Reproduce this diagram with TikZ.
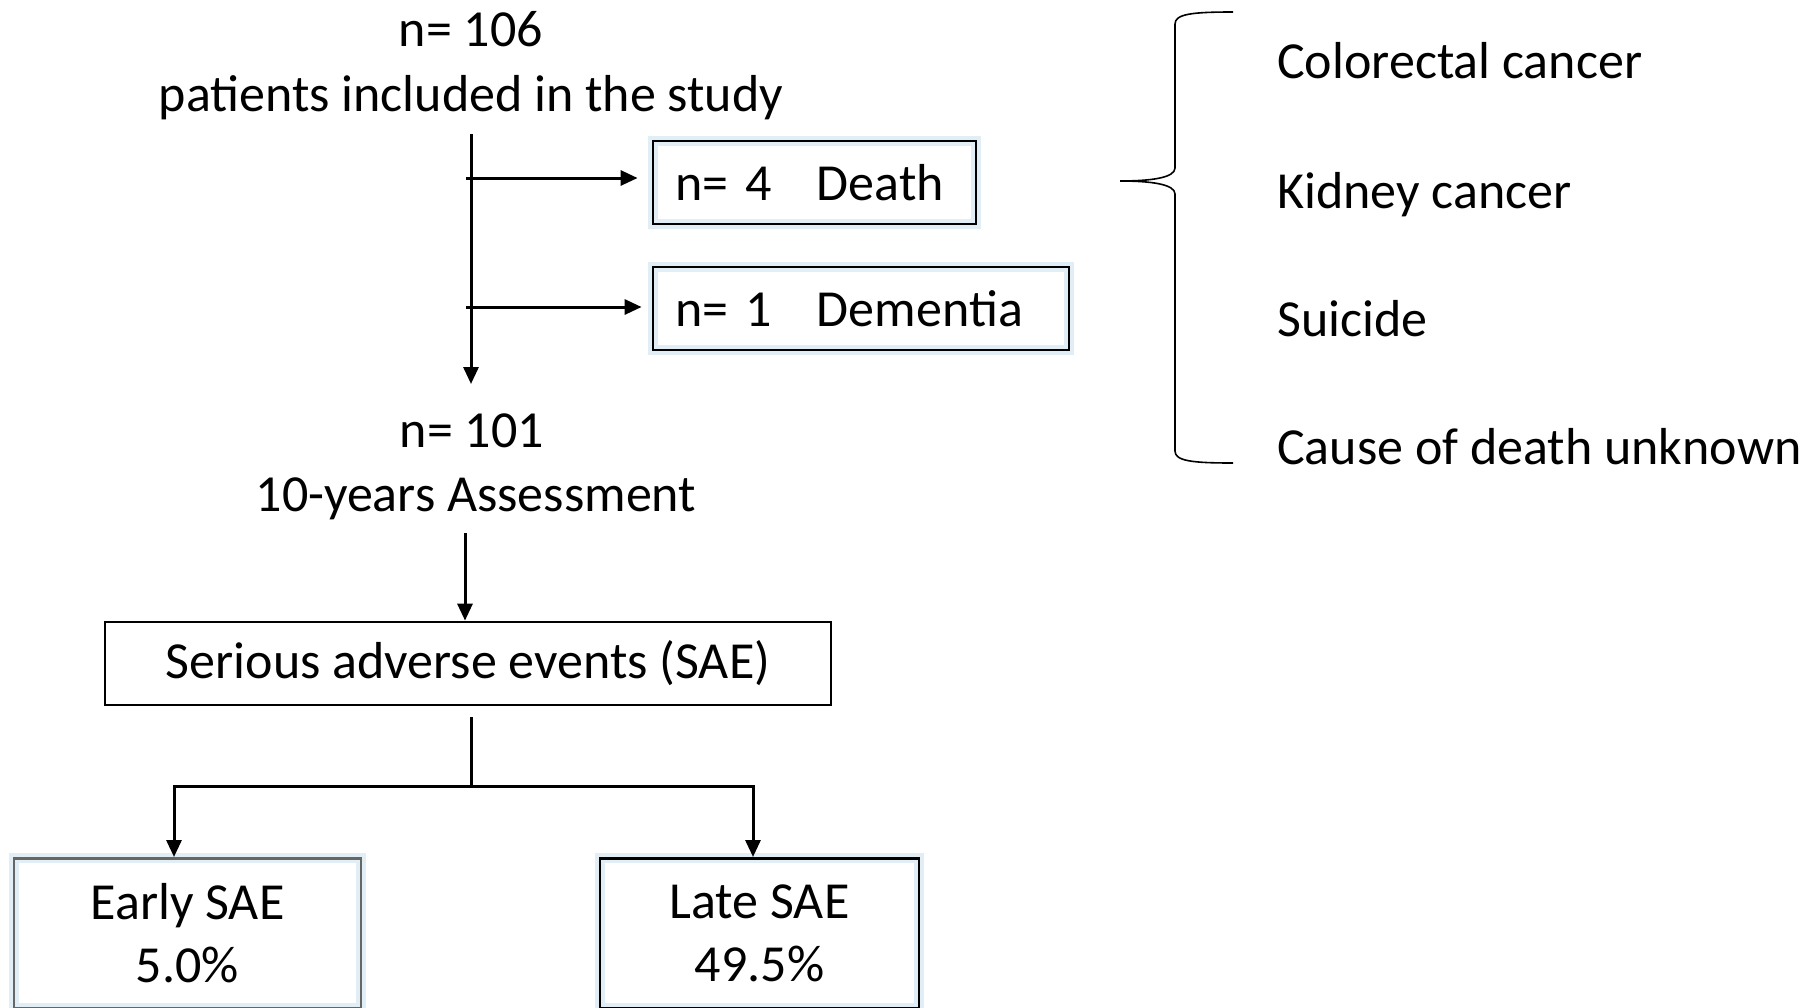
\documentclass[tikz,border=0pt]{standalone}
\usepackage{fontspec}
\setmainfont{Carlito}
\usetikzlibrary{arrows.meta}
\definecolor{glowc}{RGB}{226,238,245}
\tikzset{
  txt/.style={font=\fontsize{52}{63}\selectfont, inner sep=0pt},
  boxn/.style={draw=black, line width=2.8pt, inner sep=0pt, font=\fontsize{52}{63}\selectfont},
  glow/.style={preaction={draw=glowc, line width=10pt}},
  conn/.style={line width=3pt},
  arr/.style={line width=3pt, -{Triangle[length=17pt,width=15pt]}},
  bracel/.style={line width=1.6pt}
}
\begin{document}
\begin{tikzpicture}[x=1pt,y=-1pt]
\useasboundingbox (0,0) rectangle (1810,1007);
\clip (0,0) rectangle (1810,1007);
\fill[white] (0,0) rectangle (1810,1007);

% top texts
\node[txt, anchor=base] (n106) at (471,46) {n= 106};
\node[txt, anchor=base] (incl) at (471,111) {patients included in the study};

% exclusion boxes
\node[boxn, glow, minimum width=323pt, minimum height=83pt, text width=279pt, align=left] (death) at (814.5,182.5) {\makebox[142pt][l]{n= 4}Death};
\node[boxn, glow, minimum width=416pt, minimum height=83pt, text width=372pt, align=left] (dem) at (861,308.5) {\makebox[142pt][l]{n= 1}Dementia};

% n=101
\node[txt, anchor=base] (n101) at (472,447) {n= 101};
\node[txt, anchor=base] (assess) at (476,511) {10-years Assessment};

% SAE box
\node[boxn, minimum width=726pt, minimum height=83pt] (sae) at (468,663.5) {Serious adverse events (SAE)};

% bottom boxes
\node[boxn, glow, draw=black!60, minimum width=347pt, minimum height=150pt, align=center, anchor=north] (early) at (187.5,857) {Early SAE\\5.0\%};
\node[boxn, glow, minimum width=319pt, minimum height=150pt, align=center, anchor=north] (late) at (759.5,857) {Late SAE\\49.5\%};

% right column
\node[txt, anchor=base west] (c1) at (1277,78) {Colorectal cancer};
\node[txt, anchor=base west] (c2) at (1277,208) {Kidney cancer};
\node[txt, anchor=base west] (c3) at (1277,336) {Suicide};
\node[txt, anchor=base west] (c4) at (1277,464) {Cause of death unknown};

% connectors
\coordinate (vtop) at (471,134);
\coordinate (vbot) at (471,384);
\coordinate (j1) at (466,178);
\coordinate (j2) at (466,307);
\draw[arr] (vtop) -- (vbot);
\draw[arr] (j1) -- ([xshift=-14pt]death.west |- j1);
\draw[arr] (j2) -- ([xshift=-10pt]dem.west |- j2);

\coordinate (a2top) at (465,533);
\draw[arr] (a2top) -- (a2top |- sae.north);

\coordinate (stop) at (471,717);
\coordinate (split) at (471,786);
\coordinate (sl) at (174,786);
\coordinate (sr) at (753,786);
\draw[conn] (stop) -- (split);
\draw[conn, line cap=rect] (sl) -- (sr);
\draw[arr] (sl) -- (sl |- early.north);
\draw[arr] (sr) -- (sr |- late.north);

% brace
\draw[bracel] (1233,12) .. controls (1192,12) and (1175,14) .. (1175,24)
  -- (1175,168) .. controls (1175,178) and (1150,181) .. (1120,181)
  .. controls (1150,181) and (1175,184) .. (1175,194)
  -- (1175,451) .. controls (1175,461) and (1192,463) .. (1233,463);
\end{tikzpicture}
\end{document}
